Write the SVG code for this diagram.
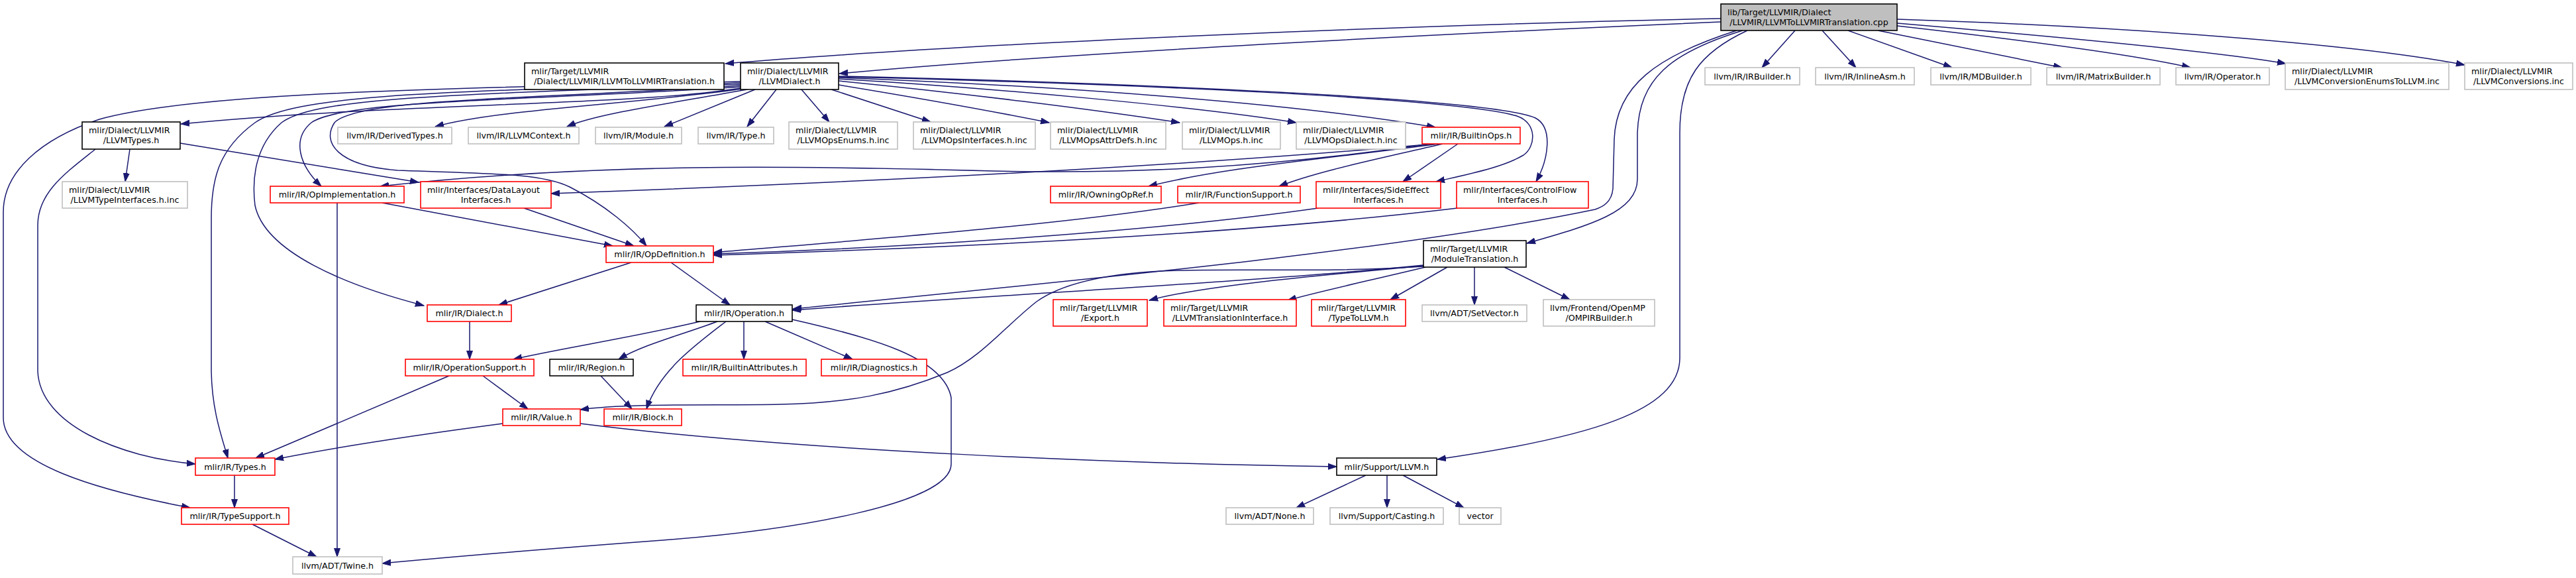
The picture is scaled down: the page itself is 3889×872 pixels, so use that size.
<svg xmlns="http://www.w3.org/2000/svg" width="3889" height="872" viewBox="0 0 3889 872">
<style>
rect{fill:#fff;stroke-width:1.6}
.b rect{stroke:#000}
.r rect{stroke:#f00}
.g rect{stroke:#bfbfbf}
.t rect{fill:#bfbfbf;stroke:#000}
text{font-family:"DejaVu Sans","Liberation Sans",sans-serif;font-size:12.7px;fill:#000}
.m{text-anchor:middle}
#edges path{fill:none;stroke:#191970;stroke-width:1.5;marker-end:url(#a)}
</style>
<defs>
<marker id="a" markerWidth="14" markerHeight="10" refX="13" refY="5" orient="auto" markerUnits="userSpaceOnUse"><path d="M0,0.5 L13,5 L0,9.5 z" fill="#191970" stroke="#191970" stroke-width="1"/></marker>
</defs>
<rect x="0" y="0" width="3889" height="872" style="fill:#fff;stroke:none"/>
<g id="edges">
<path d="M2598,28 C2200,36 1500,62 1095,96"/>
<path d="M2598,33 C2200,50 1600,80 1267,111"/>
<path d="M2710,46 L2660,102"/>
<path d="M2751,46 L2802,102"/>
<path d="M2790,46 L2947,102"/>
<path d="M2835,46 L3113,102"/>
<path d="M2864,39 C3050,60 3220,82 3307,102"/>
<path d="M2864,35 C3100,55 3350,78 3451,96"/>
<path d="M2864,29 C3200,40 3550,65 3721,98"/>
<path d="M2631,46 C2520,80 2475,120 2472,200 L2472,270 C2472,320 2400,340 2305,367"/>
<path d="M2622,46 C2500,85 2440,130 2437,210 L2435,285 C2433,305 2420,312 2408,316 C2100,380 1600,425 1197,466"/>
<path d="M2638,46 C2565,80 2536,120 2536,200 L2536,540 C2536,620 2400,660 2170,693"/>
<path d="M1118,133 C950,160 600,155 273,187"/>
<path d="M1120,134 C950,158 750,165 657,191"/>
<path d="M1128,135 C1000,158 900,172 856,191"/>
<path d="M1140,135 L1003,191"/>
<path d="M1172,135 L1128,191"/>
<path d="M1210,135 L1252,184"/>
<path d="M1255,135 L1405,184"/>
<path d="M1266,128 C1400,150 1500,168 1584,185"/>
<path d="M1266,122 C1450,140 1650,165 1781,185"/>
<path d="M1266,119 C1500,133 1800,160 1957,185"/>
<path d="M1266,117 C1600,130 1950,155 2167,192"/>
<path d="M1266,116 C1700,126 2200,148 2290,175 C2322,186 2318,222 2300,234 C2270,252 2220,262 2168,274"/>
<path d="M1266,115 C1700,125 2250,148 2318,178 C2345,192 2338,240 2319,274"/>
<path d="M1118,131 C800,152 520,150 470,185 C440,210 452,250 485,281"/>
<path d="M1118,129 C800,150 540,148 505,185 C485,215 510,250 600,257 C750,262 820,262 860,282 C915,310 955,345 976,371"/>
<path d="M1118,127 C700,143 480,145 425,185 C385,220 380,270 385,310 C400,380 520,430 640,461"/>
<path d="M1118,125 C700,138 450,140 385,185 C330,225 319,270 319,330 L319,560 C320,620 335,660 344,691"/>
<path d="M1118,123 C700,133 300,138 150,180 C60,210 5,260 5,320 L5,630 C5,700 150,740 287,766"/>
<path d="M196,225 L189,274"/>
<path d="M272,216 L632,275"/>
<path d="M144,225 C100,260 57,290 57,340 L57,560 C60,640 180,690 295,700"/>
<path d="M577,306 L925,371"/>
<path d="M509,306 L509,840"/>
<path d="M791,314 L957,371"/>
<path d="M2160,217 C1900,255 1700,262 1500,258 C1200,250 900,245 574,281"/>
<path d="M2165,217 C1800,250 1300,275 832,292"/>
<path d="M2172,217 C2000,240 1850,252 1734,281"/>
<path d="M2178,217 C2080,240 1990,258 1931,281"/>
<path d="M2201,217 L2118,274"/>
<path d="M1810,306 C1600,340 1300,362 1077,381"/>
<path d="M1990,314 C1700,355 1300,376 1077,383"/>
<path d="M2200,314 C1900,350 1500,372 1077,385"/>
<path d="M1013,396 L1102,460"/>
<path d="M953,396 L753,460"/>
<path d="M709,485 L709,542"/>
<path d="M1057,485 C950,510 850,525 775,542"/>
<path d="M1083,485 C1030,505 970,520 934,542"/>
<path d="M1096,485 C1050,520 995,560 976,617"/>
<path d="M1123,485 L1123,542"/>
<path d="M1155,485 L1287,542"/>
<path d="M1196,482 C1320,510 1425,540 1436,600 L1436,700 C1436,760 1200,800 1000,815 C800,830 650,843 577,850"/>
<path d="M678,567 L386,691"/>
<path d="M729,567 L797,617"/>
<path d="M907,567 L954,617"/>
<path d="M759,639 C600,660 480,680 415,693"/>
<path d="M876,639 C1200,680 1700,700 2018,704"/>
<path d="M354,717 L354,766"/>
<path d="M381,791 L478,840"/>
<path d="M2062,717 L1957,766"/>
<path d="M2094,717 L2094,766"/>
<path d="M2118,717 L2210,766"/>
<path d="M2149,400 C1900,425 1500,445 1196,468"/>
<path d="M2149,401 C2000,415 1820,430 1735,453"/>
<path d="M2152,403 C2060,425 1990,440 1944,453"/>
<path d="M2185,403 L2099,452"/>
<path d="M2226,403 L2226,460"/>
<path d="M2271,403 L2370,452"/>
<path d="M2149,402 C2000,412 1850,404 1752,409 C1660,414 1600,430 1565,455 C1520,490 1480,540 1430,562 C1350,595 1280,608 1178,610 C1080,612 950,608 876,618"/>
</g>
<g id="n0" class="t"><rect x="2598" y="6" width="266" height="40"/><text x="2608" y="23">lib/Target/LLVMIR/Dialect</text><text class="m" x="2731" y="38">/LLVMIR/LLVMToLLVMIRTranslation.cpp</text></g>
<g id="n1" class="b"><rect x="792" y="95" width="301" height="40"/><text x="802" y="112">mlir/Target/LLVMIR</text><text class="m" x="942.5" y="127">/Dialect/LLVMIR/LLVMToLLVMIRTranslation.h</text></g>
<g id="n2" class="b"><rect x="1118" y="95" width="148" height="40"/><text x="1128" y="112">mlir/Dialect/LLVMIR</text><text class="m" x="1192" y="127">/LLVMDialect.h</text></g>
<g id="n3" class="g"><rect x="2574" y="102" width="143" height="26"/><text class="m" x="2645.5" y="119.5">llvm/IR/IRBuilder.h</text></g>
<g id="n4" class="g"><rect x="2741" y="102" width="149" height="26"/><text class="m" x="2815.5" y="119.5">llvm/IR/InlineAsm.h</text></g>
<g id="n5" class="g"><rect x="2915" y="102" width="151" height="26"/><text class="m" x="2990.5" y="119.5">llvm/IR/MDBuilder.h</text></g>
<g id="n6" class="g"><rect x="3090" y="102" width="171" height="26"/><text class="m" x="3175.5" y="119.5">llvm/IR/MatrixBuilder.h</text></g>
<g id="n7" class="g"><rect x="3285" y="102" width="141" height="26"/><text class="m" x="3355.5" y="119.5">llvm/IR/Operator.h</text></g>
<g id="n8" class="g"><rect x="3450" y="95" width="247" height="40"/><text x="3460" y="112">mlir/Dialect/LLVMIR</text><text class="m" x="3573.5" y="127">/LLVMConversionEnumsToLLVM.inc</text></g>
<g id="n9" class="g"><rect x="3721" y="95" width="163" height="40"/><text x="3731" y="112">mlir/Dialect/LLVMIR</text><text class="m" x="3802.5" y="127">/LLVMConversions.inc</text></g>
<g id="n10" class="b"><rect x="124" y="184" width="148" height="41"/><text x="134" y="201">mlir/Dialect/LLVMIR</text><text class="m" x="198" y="216">/LLVMTypes.h</text></g>
<g id="n11" class="g"><rect x="510" y="192" width="172" height="25"/><text class="m" x="596" y="209">llvm/IR/DerivedTypes.h</text></g>
<g id="n12" class="g"><rect x="707" y="192" width="167" height="25"/><text class="m" x="790.5" y="209">llvm/IR/LLVMContext.h</text></g>
<g id="n13" class="g"><rect x="899" y="192" width="130" height="25"/><text class="m" x="964" y="209">llvm/IR/Module.h</text></g>
<g id="n14" class="g"><rect x="1054" y="192" width="114" height="25"/><text class="m" x="1111" y="209">llvm/IR/Type.h</text></g>
<g id="n15" class="g"><rect x="1191" y="184" width="164" height="41"/><text x="1201" y="201">mlir/Dialect/LLVMIR</text><text class="m" x="1273" y="216">/LLVMOpsEnums.h.inc</text></g>
<g id="n16" class="g"><rect x="1379" y="184" width="184" height="41"/><text x="1389" y="201">mlir/Dialect/LLVMIR</text><text class="m" x="1471" y="216">/LLVMOpsInterfaces.h.inc</text></g>
<g id="n17" class="g"><rect x="1586" y="184" width="174" height="41"/><text x="1596" y="201">mlir/Dialect/LLVMIR</text><text class="m" x="1673" y="216">/LLVMOpsAttrDefs.h.inc</text></g>
<g id="n18" class="g"><rect x="1785" y="184" width="148" height="41"/><text x="1795" y="201">mlir/Dialect/LLVMIR</text><text class="m" x="1859" y="216">/LLVMOps.h.inc</text></g>
<g id="n19" class="g"><rect x="1957" y="184" width="165" height="41"/><text x="1967" y="201">mlir/Dialect/LLVMIR</text><text class="m" x="2039.5" y="216">/LLVMOpsDialect.h.inc</text></g>
<g id="n20" class="r"><rect x="2147" y="192" width="148" height="25"/><text class="m" x="2221" y="209">mlir/IR/BuiltinOps.h</text></g>
<g id="n21" class="g"><rect x="94" y="274" width="189" height="40"/><text x="104" y="291">mlir/Dialect/LLVMIR</text><text class="m" x="188.5" y="306">/LLVMTypeInterfaces.h.inc</text></g>
<g id="n22" class="r"><rect x="408" y="281" width="202" height="25"/><text class="m" x="509" y="298">mlir/IR/OpImplementation.h</text></g>
<g id="n23" class="r"><rect x="635" y="274" width="197" height="40"/><text x="645" y="291">mlir/Interfaces/DataLayout</text><text class="m" x="733.5" y="306">Interfaces.h</text></g>
<g id="n24" class="r"><rect x="1586" y="281" width="167" height="25"/><text class="m" x="1669.5" y="298">mlir/IR/OwningOpRef.h</text></g>
<g id="n25" class="r"><rect x="1778" y="281" width="185" height="25"/><text class="m" x="1870.5" y="298">mlir/IR/FunctionSupport.h</text></g>
<g id="n26" class="r"><rect x="1987" y="274" width="188" height="40"/><text x="1997" y="291">mlir/Interfaces/SideEffect</text><text class="m" x="2081" y="306">Interfaces.h</text></g>
<g id="n27" class="r"><rect x="2199" y="274" width="199" height="40"/><text x="2209" y="291">mlir/Interfaces/ControlFlow</text><text class="m" x="2298.5" y="306">Interfaces.h</text></g>
<g id="n28" class="b"><rect x="2149" y="363" width="155" height="40"/><text x="2159" y="380">mlir/Target/LLVMIR</text><text class="m" x="2226.5" y="395">/ModuleTranslation.h</text></g>
<g id="n29" class="r"><rect x="915" y="371" width="162" height="25"/><text class="m" x="996" y="388">mlir/IR/OpDefinition.h</text></g>
<g id="n30" class="r"><rect x="645" y="460" width="127" height="25"/><text class="m" x="708.5" y="477">mlir/IR/Dialect.h</text></g>
<g id="n31" class="b"><rect x="1051" y="460" width="145" height="25"/><text class="m" x="1123.5" y="477">mlir/IR/Operation.h</text></g>
<g id="n32" class="r"><rect x="1590" y="452" width="142" height="40"/><text x="1600" y="469">mlir/Target/LLVMIR</text><text class="m" x="1661" y="484">/Export.h</text></g>
<g id="n33" class="r"><rect x="1757" y="452" width="200" height="40"/><text x="1767" y="469">mlir/Target/LLVMIR</text><text class="m" x="1857" y="484">/LLVMTranslationInterface.h</text></g>
<g id="n34" class="r"><rect x="1980" y="452" width="142" height="40"/><text x="1990" y="469">mlir/Target/LLVMIR</text><text class="m" x="2051" y="484">/TypeToLLVM.h</text></g>
<g id="n35" class="g"><rect x="2147" y="460" width="158" height="25"/><text class="m" x="2226" y="477">llvm/ADT/SetVector.h</text></g>
<g id="n36" class="g"><rect x="2330" y="452" width="168" height="40"/><text x="2340" y="469">llvm/Frontend/OpenMP</text><text class="m" x="2414" y="484">/OMPIRBuilder.h</text></g>
<g id="n37" class="r"><rect x="612" y="542" width="194" height="25"/><text class="m" x="709" y="559">mlir/IR/OperationSupport.h</text></g>
<g id="n38" class="b"><rect x="830" y="542" width="126" height="25"/><text class="m" x="893" y="559">mlir/IR/Region.h</text></g>
<g id="n39" class="r"><rect x="1031" y="542" width="186" height="25"/><text class="m" x="1124" y="559">mlir/IR/BuiltinAttributes.h</text></g>
<g id="n40" class="r"><rect x="1240" y="542" width="159" height="25"/><text class="m" x="1319.5" y="559">mlir/IR/Diagnostics.h</text></g>
<g id="n41" class="r"><rect x="759" y="617" width="117" height="25"/><text class="m" x="817.5" y="634">mlir/IR/Value.h</text></g>
<g id="n42" class="r"><rect x="912" y="617" width="117" height="25"/><text class="m" x="970.5" y="634">mlir/IR/Block.h</text></g>
<g id="n43" class="r"><rect x="295" y="691" width="120" height="26"/><text class="m" x="355" y="708.5">mlir/IR/Types.h</text></g>
<g id="n44" class="b"><rect x="2018" y="691" width="151" height="26"/><text class="m" x="2093.5" y="708.5">mlir/Support/LLVM.h</text></g>
<g id="n45" class="r"><rect x="274" y="766" width="162" height="25"/><text class="m" x="355" y="783">mlir/IR/TypeSupport.h</text></g>
<g id="n46" class="g"><rect x="1851" y="766" width="132" height="25"/><text class="m" x="1917" y="783">llvm/ADT/None.h</text></g>
<g id="n47" class="g"><rect x="2008" y="766" width="171" height="25"/><text class="m" x="2093.5" y="783">llvm/Support/Casting.h</text></g>
<g id="n48" class="g"><rect x="2203" y="766" width="63" height="25"/><text class="m" x="2234.5" y="783">vector</text></g>
<g id="n49" class="g"><rect x="442" y="840" width="135" height="26"/><text class="m" x="509.5" y="857.5">llvm/ADT/Twine.h</text></g>
</svg>
